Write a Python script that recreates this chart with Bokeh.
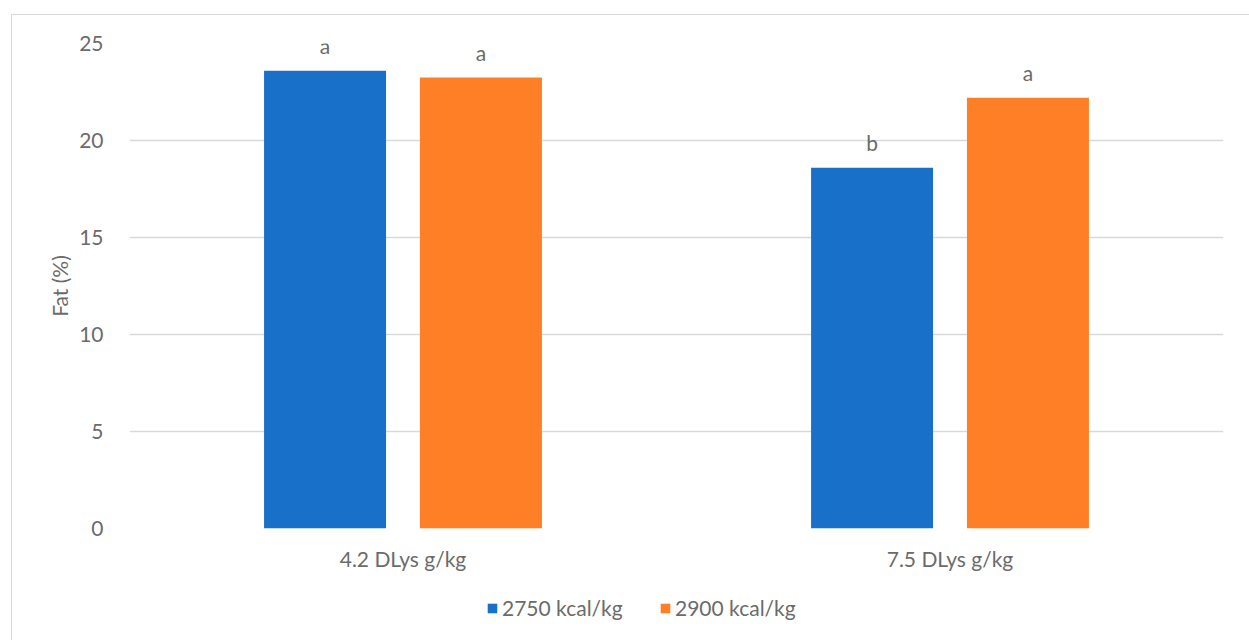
from bokeh.plotting import figure
from bokeh.layouts import column
from bokeh.models import ColumnDataSource, FactorRange, Legend, LegendItem, Range1d
from bokeh.transform import dodge
from bokeh.core.properties import value
from bokeh.embed import file_html
from bokeh.resources import INLINE

# Fat content by digestible lysine level and dietary energy
categories = ["4.2 DLys g/kg", "7.5 DLys g/kg"]
series_names = ["2750 kcal/kg", "2900 kcal/kg"]
fat_2750 = [23.6, 18.6]
fat_2900 = [23.25, 22.2]
sig_2750 = ["a", "b"]
sig_2900 = ["a", "a"]
y_ticks = [0, 5, 10, 15, 20, 25]

BLUE = "#1870C8"
ORANGE = "#FF7F27"
TEXT = "#6b6b6b"
GRID = "#d9d9d9"
FONT = "Lato"
FS = "21px"

src = ColumnDataSource(dict(cat=categories, f2750=fat_2750, f2900=fat_2900,
                            s2750=sig_2750, s2900=sig_2900))

p = figure(width=1238, height=580, x_range=FactorRange(*categories),
           y_range=Range1d(0, 25), output_backend="svg", toolbar_location=None,
           min_border_left=117, min_border_right=27, min_border_top=28,
           min_border_bottom=67, outline_line_color=None)

off = 0.1425
bw = 0.223
p.vbar(x=dodge("cat", -off, range=p.x_range), top="f2750", width=bw,
       source=src, color=BLUE, line_color=None)
p.vbar(x=dodge("cat", off, range=p.x_range), top="f2900", width=bw,
       source=src, color=ORANGE, line_color=None)

# significance letters above each bar
for xoff, col, lab in [(-off, "f2750", "s2750"), (off, "f2900", "s2900")]:
    p.text(x=dodge("cat", xoff, range=p.x_range), y=col, text=lab, source=src,
           text_align="center", text_baseline="alphabetic", y_offset=-25,
           text_font=value(FONT), text_font_size=FS, text_color=TEXT)

# axes
p.yaxis.ticker = y_ticks
p.yaxis.axis_line_color = None
p.yaxis.major_tick_line_color = None
p.yaxis.minor_tick_line_color = None
p.yaxis.major_label_standoff = 20
p.yaxis.major_label_text_font = FONT
p.yaxis.major_label_text_font_size = FS
p.yaxis.major_label_text_color = TEXT
p.yaxis.axis_label = "Fat (%)"
p.yaxis.axis_label_text_font = FONT
p.yaxis.axis_label_text_font_size = FS
p.yaxis.axis_label_text_font_style = "normal"
p.yaxis.axis_label_text_color = TEXT
p.yaxis.axis_label_standoff = 4

p.xaxis.axis_line_color = None
p.xaxis.major_tick_line_color = None
p.xaxis.minor_tick_line_color = None
p.xaxis.major_label_standoff = 11
p.xaxis.major_label_text_font = FONT
p.xaxis.major_label_text_font_size = FS
p.xaxis.major_label_text_color = TEXT

p.xgrid.grid_line_color = None
p.ygrid.grid_line_color = GRID
p.ygrid.grid_line_width = 1.5
p.x_range.range_padding = 0.0
p.x_range.group_padding = 0.0

# legend strip underneath the chart; the key renderers are zero-size bars
leg = figure(width=1238, height=46, x_range=Range1d(0, 1), y_range=Range1d(0, 1),
             output_backend="svg", toolbar_location=None, min_border=0,
             outline_line_color=None)
leg.axis.visible = False
leg.grid.visible = False
key_src = ColumnDataSource(dict(x=[0.5], top=[0.0]))
k1 = leg.vbar(x="x", top="top", width=0, source=key_src, color=BLUE, line_color=None)
k2 = leg.vbar(x="x", top="top", width=0, source=key_src, color=ORANGE, line_color=None)

legend = Legend(items=[LegendItem(label=series_names[0], renderers=[k1]),
                       LegendItem(label=series_names[1], renderers=[k2])],
                orientation="horizontal", location=(357, 21),
                label_text_font=FONT, label_text_font_size=FS,
                label_text_color=TEXT, glyph_width=12, glyph_height=12,
                label_standoff=4, label_width=130, spacing=27,
                border_line_color=None, background_fill_alpha=0,
                padding=0, margin=0)
leg.add_layout(legend, "center")

layout = column(p, leg, spacing=0, margin=(14, 0, 0, 11),
                styles={"border-top": "1px solid #d9d9d9",
                        "border-left": "1px solid #d9d9d9"})

open("out.html", "w").write(file_html(layout, INLINE))
